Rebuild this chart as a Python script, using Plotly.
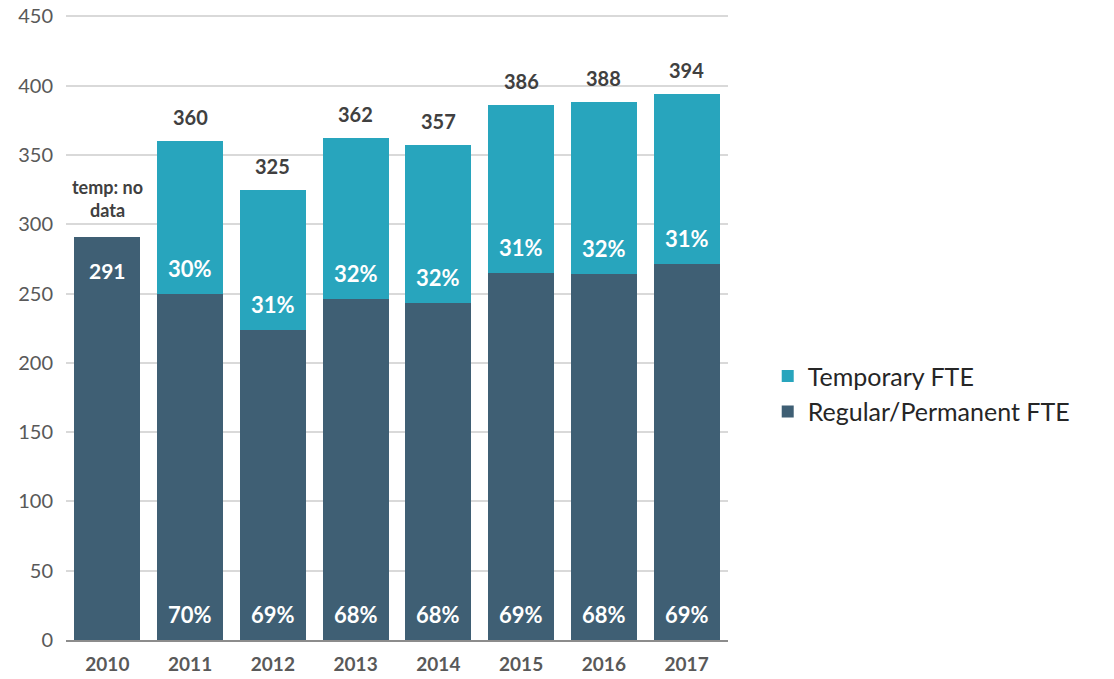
import plotly.graph_objects as go

years = ["2010", "2011", "2012", "2013", "2014", "2015", "2016", "2017"]
totals = [291, 360, 325, 362, 357, 386, 388, 394]
regular = [291, 250, 224, 246, 243, 265, 264, 271]
temporary = [None, 110, 101, 116, 114, 121, 124, 123]
regular_pct = ["", "70%", "69%", "68%", "68%", "69%", "68%", "69%"]
temp_pct = ["", "30%", "31%", "32%", "32%", "31%", "32%", "31%"]
yticks = [0, 50, 100, 150, 200, 250, 300, 350, 400, 450]

C_TEMP = "#28A5BD"
C_REG = "#3F5F74"
FONT = "Lato"

fig = go.Figure()
fig.add_trace(go.Bar(x=years, y=regular, name="Regular/Permanent FTE",
                     marker=dict(color=C_REG, line=dict(width=0)), hoverinfo="skip"))
fig.add_trace(go.Bar(x=years, y=temporary, name="Temporary FTE",
                     marker=dict(color=C_TEMP, line=dict(width=0)), hoverinfo="skip"))

ann = []
for i, yr in enumerate(years):
    if temporary[i] is None:
        ann.append(dict(x=i, y=totals[i], text="<b>temp: no<br>data</b>", showarrow=False,
                        yanchor="bottom", yshift=14, font=dict(family=FONT, size=18, color="#404040")))
        ann.append(dict(x=i, y=totals[i], text="<b>%d</b>" % regular[i], showarrow=False,
                        yanchor="top", yshift=-19, font=dict(family=FONT, size=21, color="white")))
    else:
        ann.append(dict(x=i, y=totals[i], text="<b>%d</b>" % totals[i], showarrow=False,
                        yanchor="bottom", yshift=10, font=dict(family=FONT, size=20, color="#404040")))
        ann.append(dict(x=i, y=regular[i], text="<b>%s</b>" % temp_pct[i], showarrow=False,
                        yanchor="bottom", yshift=10, font=dict(family=FONT, size=22, color="white")))
        ann.append(dict(x=i, y=0, text="<b>%s</b>" % regular_pct[i], showarrow=False,
                        yanchor="bottom", yshift=10, font=dict(family=FONT, size=22, color="white")))

fig.update_layout(
    width=1114, height=679,
    margin=dict(l=58, r=394, t=7, b=47, autoexpand=False),
    plot_bgcolor="white", paper_bgcolor="white",
    barmode="stack", bargap=0.2,
    annotations=ann,
    font=dict(family=FONT, color="#595959"),
    legend=dict(x=1.060, y=0.394, yanchor="middle", xanchor="left",
                font=dict(family=FONT, size=25, color="#262626"),
                traceorder="reversed", itemwidth=30),
    xaxis=dict(type="category", range=[-0.5, 7.5], showline=True, linecolor="#8c8c8c",
               linewidth=2, ticks="", automargin=False, ticklabelstandoff=6,
               tickfont=dict(family=FONT, size=19, color="#595959", weight="bold")),
    yaxis=dict(range=[0, 451], tickvals=yticks, showgrid=True, gridcolor="#d9d9d9", gridwidth=2,
               zeroline=False, ticks="", ticklabelstandoff=12, automargin=False,
               ticklabeloverflow="allow",
               tickfont=dict(family=FONT, size=20, color="#595959")),
)

fig.write_html("out.html")
